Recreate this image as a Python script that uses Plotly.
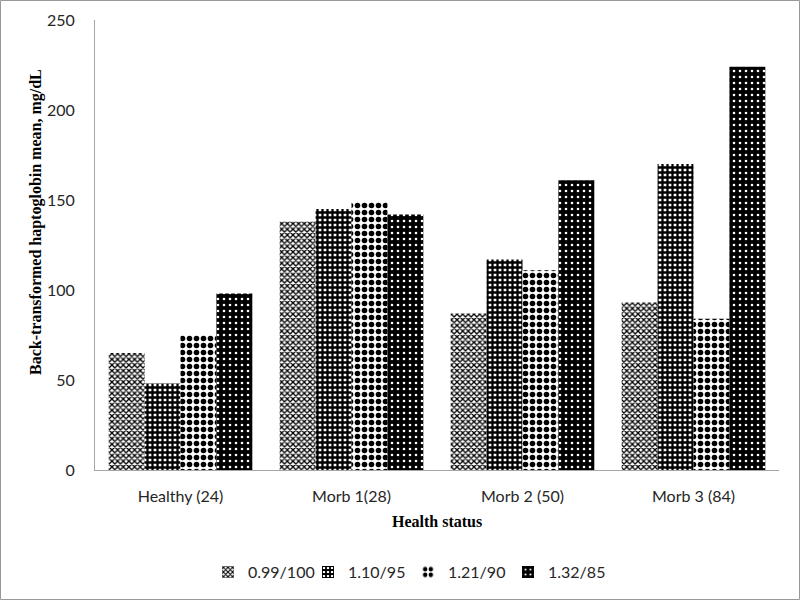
import plotly.graph_objects as go

categories = ["Healthy (24)", "Morb 1(28)", "Morb 2 (50)", "Morb 3 (84)"]
series_names = ["0.99/100", "1.10/95", "1.21/90", "1.32/85"]
s_099_100 = [65, 138, 87, 93]
s_110_95 = [48, 145, 117, 170]
s_121_90 = [75, 149, 111, 84]
s_132_85 = [98, 142, 161, 224]
y_ticks = [0, 50, 100, 150, 200, 250]

values = [s_099_100, s_110_95, s_121_90, s_132_85]
patterns = [
    dict(shape="x", bgcolor="white", fgcolor="black", size=4, solidity=0.55),
    dict(shape="+", bgcolor="white", fgcolor="black", size=5, solidity=0.7),
    dict(shape=".", bgcolor="white", fgcolor="black", size=7, solidity=0.5),
    dict(shape=".", bgcolor="black", fgcolor="white", size=6, solidity=0.15),
]

fig = go.Figure()
for name, vals, pat in zip(series_names, values, patterns):
    fig.add_trace(go.Bar(
        x=categories, y=vals, name=name,
        marker=dict(color="white", pattern=dict(fillmode="replace", **pat),
                    line=dict(width=0)),
    ))

title_font = dict(family="Liberation Serif, Times New Roman, serif", size=16, color="black")

fig.update_layout(
    width=800, height=600,
    margin=dict(l=95, r=21, t=20, b=130, autoexpand=False),
    paper_bgcolor="white", plot_bgcolor="white",
    barmode="group", bargap=0.16, bargroupgap=0,
    font=dict(family="Lato, Liberation Sans, sans-serif", size=16, color="#262626"),
    showlegend=True,
    legend=dict(orientation="h", x=(408 - 95) / 684, xanchor="center", y=-0.227, yanchor="middle",
                font=dict(size=16, color="#262626"), itemwidth=30, traceorder="normal",
                entrywidth=55, entrywidthmode="pixels"),
    xaxis=dict(
        automargin=False,
        showline=True, linecolor="#a6a6a6", linewidth=1, ticks="", showgrid=False,
        tickfont=dict(size=16, color="#262626"), ticklabelstandoff=12,
    ),
    yaxis=dict(
        automargin=False,
        range=[0, 250], tickvals=y_ticks, showline=True, linecolor="#a6a6a6", linewidth=1,
        ticks="", showgrid=False, zeroline=False,
        tickfont=dict(size=16, color="#262626"), ticklabelstandoff=16,
    ),
    annotations=[
        dict(text="<b>Health status</b>", xref="paper", yref="paper",
             x=0.5, y=(470 - 521) / 450, xanchor="center", yanchor="middle",
             showarrow=False, font=title_font),
        dict(text="<b>Back-transformed haptoglobin mean, mg/dL</b>", xref="paper", yref="paper",
             x=(36 - 95) / 684, y=(470 - 222) / 450, xanchor="center", yanchor="middle",
             textangle=-90, showarrow=False, font=title_font),
    ],
)

# outer border of the chart image
fig.add_shape(type="rect", xref="paper", yref="paper",
              x0=(0.5 - 95) / 684, x1=(799.5 - 95) / 684,
              y0=(470 - 599.5) / 450, y1=(470 - 0.5) / 450,
              line=dict(color="#999999", width=1), fillcolor="rgba(0,0,0,0)", layer="above")

fig.write_html("out.html", config={"displayModeBar": False},
               post_script="document.body.style.margin='0';")
